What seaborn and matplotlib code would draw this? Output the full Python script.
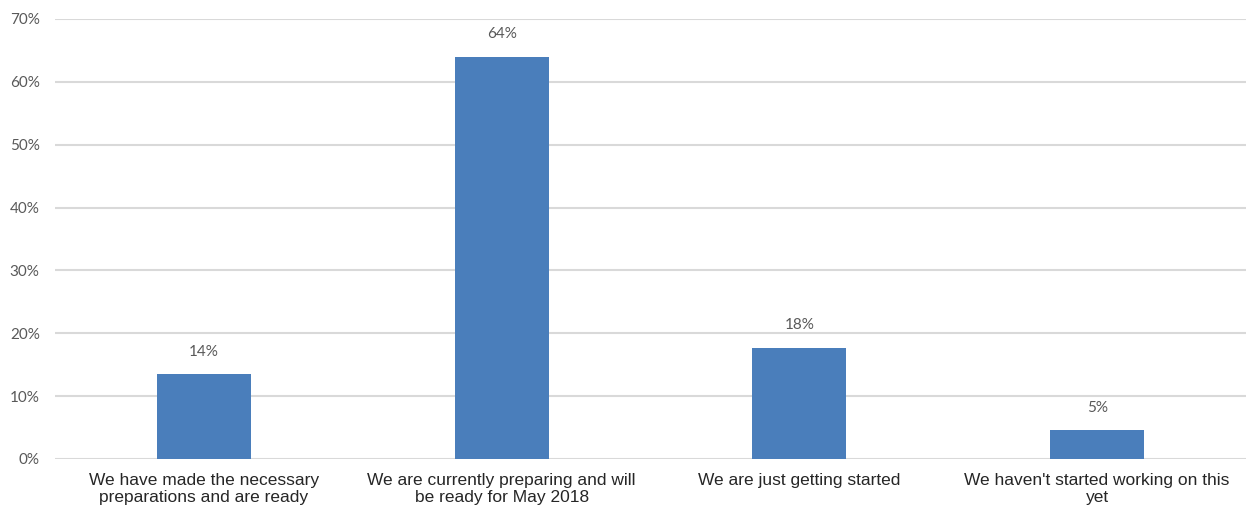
import matplotlib
matplotlib.use("Agg")
import matplotlib.pyplot as plt
import seaborn as sns
import pandas as pd

categories = [
    "We have made the necessary\npreparations and are ready",
    "We are currently preparing and will\nbe ready for May 2018",
    "We are just getting started",
    "We haven't started working on this\nyet",
]
values = [13.5, 64.0, 17.7, 4.6]
value_labels = ["14%", "64%", "18%", "5%"]
yticks = [0, 10, 20, 30, 40, 50, 60, 70]
ytick_labels = ["0%", "10%", "20%", "30%", "40%", "50%", "60%", "70%"]

df = pd.DataFrame({"cat": categories, "val": values})

sns.set_style("white")
plt.rcParams["font.family"] = ["Liberation Sans", "DejaVu Sans"]

fig = plt.figure(figsize=(12.46, 5.09), dpi=100)
ax = fig.add_axes([55 / 1246, 1 - 459 / 509, 1 - 55 / 1246, (459 - 19) / 509])

sns.barplot(data=df, x="cat", y="val", color="#4a7ebb", saturation=1,
            width=0.315, ax=ax, zorder=3, linewidth=0, edgecolor="none")

ax.set_ylim(0, 70)
ax.set_xlim(-0.5, 3.5)
ax.set_yticks(yticks)
ax.set_yticklabels(ytick_labels, color="#595959", fontsize=11, family="Lato")
ax.yaxis.grid(True, color="#d9d9d9", linewidth=1.5, zorder=0)
ax.set_axisbelow(True)
for s in ax.spines.values():
    s.set_visible(False)
ax.tick_params(axis="y", length=0, pad=11)
ax.tick_params(axis="x", length=0, pad=10, labelsize=12.5, labelcolor="#262626")
ax.set_xlabel("")
ax.set_ylabel("")
for lbl in ax.get_xticklabels():
    lbl.set_linespacing(1.15)

for i, (v, t) in enumerate(zip(values, value_labels)):
    ax.annotate(t, (i, v), xytext=(0, 11), textcoords="offset points",
                ha="center", va="bottom", fontsize=11, color="#595959", family="Lato")

fig.savefig("out.png", dpi=100)
